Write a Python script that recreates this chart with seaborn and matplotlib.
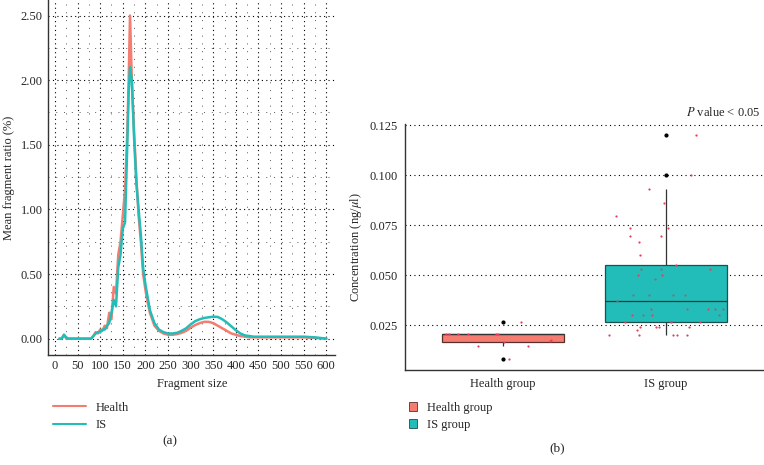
import numpy as np
import pandas as pd
import matplotlib.pyplot as plt
import seaborn as sns
from matplotlib.ticker import MultipleLocator, FormatStrFormatter
from matplotlib.lines import Line2D
from matplotlib.patches import Patch

# panel (a): fragment size distribution
frag_size = [10, 15, 20, 25, 30, 40, 50, 60, 70, 80, 85, 90, 95, 100, 105, 110, 115, 120,
             125, 130, 135, 140, 145, 150, 155, 160, 163, 166, 170, 175, 180, 185, 190, 195,
             200, 205, 210, 220, 230, 240, 250, 260, 270, 280, 290, 300, 310, 320, 330, 340,
             350, 360, 370, 380, 390, 400, 410, 420, 430, 440, 450, 475, 500, 525, 550, 575, 600]
health_ratio = [0, 0, 0.03, 0, 0, 0, 0, 0, 0, 0, 0.02, 0.05, 0.04, 0.07, 0.06, 0.10, 0.08, 0.20,
                0.15, 0.40, 0.35, 0.65, 0.75, 0.95, 1.15, 1.60, 2.00, 2.50, 2.00, 1.60, 1.25, 0.95, 0.75, 0.50,
                0.38, 0.28, 0.20, 0.10, 0.06, 0.04, 0.03, 0.03, 0.035, 0.045, 0.06, 0.085, 0.105, 0.12, 0.13, 0.13,
                0.12, 0.10, 0.08, 0.06, 0.04, 0.03, 0.02, 0.015, 0.01, 0.01, 0.01, 0.01, 0.01, 0.01, 0.01, 0.005, 0]
is_ratio = [0, 0, 0.03, 0.01, 0, 0, 0, 0, 0, 0, 0.02, 0.04, 0.05, 0.05, 0.07, 0.07, 0.10, 0.12,
            0.20, 0.30, 0.25, 0.55, 0.65, 0.85, 0.90, 1.50, 1.90, 2.10, 2.00, 1.55, 1.20, 1.00, 0.80, 0.55,
            0.42, 0.32, 0.22, 0.12, 0.07, 0.05, 0.04, 0.04, 0.045, 0.06, 0.08, 0.11, 0.135, 0.15, 0.16, 0.165,
            0.17, 0.168, 0.15, 0.125, 0.095, 0.065, 0.04, 0.025, 0.02, 0.015, 0.015, 0.015, 0.015, 0.015, 0.015, 0.01, 0]

# panel (b): concentration by group
health_conc = [0.0082, 0.0145, 0.0145, 0.0165, 0.017, 0.0175, 0.0205, 0.0205, 0.0205,
               0.0205, 0.0205, 0.0205, 0.0266]
is_conc = [0.020, 0.020, 0.020, 0.020, 0.020, 0.0229, 0.0242, 0.0242, 0.0242, 0.0242,
           0.0266, 0.0266, 0.0266, 0.0303, 0.0303, 0.0303, 0.0303, 0.0333, 0.0333, 0.0333,
           0.0333, 0.0333, 0.037, 0.0399, 0.0399, 0.0399, 0.0399, 0.0479, 0.0499, 0.0499,
           0.0532, 0.0532, 0.0532, 0.055, 0.0602, 0.0664, 0.0698, 0.0698, 0.0734, 0.0734,
           0.0797, 0.0863, 0.0933, 0.100, 0.120]
groups = ["Health group", "IS group"]

red = "#F47C70"
teal = "#22BDB8"
red_edge = "#5a2e2b"
teal_edge = "#1d4f4e"

sns.set_style("white")
plt.rcParams['font.family'] = ['Liberation Serif', 'DejaVu Serif']
plt.rcParams['mathtext.fontset'] = 'stix'

fig = plt.figure(figsize=(7.64, 4.65), dpi=100)
ax1 = fig.add_axes([0.063, 0.237, 0.376, 0.763])
ax2 = fig.add_axes([0.530, 0.204, 0.470, 0.529])

# ---- (a)
sns.lineplot(x=frag_size, y=health_ratio, color=red, lw=1.8, ax=ax1, label="Health")
sns.lineplot(x=frag_size, y=is_ratio, color=teal, lw=1.8, ax=ax1, label="IS")
ax1.set_xlim(-15, 620)
ax1.set_ylim(-0.125, 2.62)
ax1.xaxis.set_major_locator(MultipleLocator(50))
ax1.xaxis.set_minor_locator(MultipleLocator(25))
ax1.yaxis.set_major_locator(MultipleLocator(0.5))
ax1.yaxis.set_minor_locator(MultipleLocator(0.25))
ax1.yaxis.set_major_formatter(FormatStrFormatter('%.2f'))
ax1.grid(which='major', color='black', linestyle=(0, (1, 3)), lw=0.8)
ax1.grid(which='minor', color='0.35', linestyle=(0, (1, 7)), lw=0.7)
ax1.set_axisbelow(True)
ax1.tick_params(which='both', length=0, labelsize=9, pad=4)
ax1.set_xlabel("Fragment size", fontsize=9)
ax1.set_ylabel("Mean fragment ratio (%)", fontsize=9)
for s in ['top', 'right']:
    ax1.spines[s].set_visible(False)
for s in ['left', 'bottom']:
    ax1.spines[s].set_color('#333333')
    ax1.spines[s].set_linewidth(1.0)
ax1.get_legend().remove()
fig.legend(handles=[Line2D([], [], color=red, lw=1.5), Line2D([], [], color=teal, lw=1.5)],
           labels=["Health", "IS"], loc='upper left', bbox_to_anchor=(0.055, 0.16),
           frameon=False, fontsize=9, handlelength=2.6, labelspacing=0.45)
fig.text(0.222, 0.052, "(a)", ha='center', va='center', fontsize=9.5)

# ---- (b)
df = pd.DataFrame({
    "group": [groups[0]] * len(health_conc) + [groups[1]] * len(is_conc),
    "value": health_conc + is_conc,
})
sns.boxplot(data=df, x="group", y="value", hue="group", palette=[red, teal], width=0.75,
            saturation=1, linecolor='#333333', linewidth=0.9, fliersize=2, showcaps=False,
            legend=False,
            flierprops=dict(marker='o', markerfacecolor='black', markeredgecolor='black'),
            ax=ax2)
for patch, ec in zip(ax2.patches, [red_edge, teal_edge]):
    patch.set_edgecolor(ec)
np.random.seed(3)
sns.stripplot(data=df, x="group", y="value", color="#E8405A", size=1.6, jitter=0.37, ax=ax2)
ax2.set_xlim(-0.601, 1.601)
ax2.set_ylim(0.0026, 0.1255)
ax2.set_yticks([0.025, 0.050, 0.075, 0.100, 0.125])
ax2.yaxis.set_major_formatter(FormatStrFormatter('%.3f'))
ax2.yaxis.grid(True, color='black', linestyle=(0, (1, 3)), lw=0.8)
ax2.set_axisbelow(True)
ax2.tick_params(axis='y', length=0, labelsize=9, pad=5)
ax2.tick_params(axis='x', length=3, width=0.8, color='#333333', labelsize=9, pad=3)
ax2.set_xlabel("")
ax2.set_ylabel(r"Concentration (ng/$\mathit{\mu}$l)", fontsize=9)
for s in ['top', 'right']:
    ax2.spines[s].set_visible(False)
for s in ['left', 'bottom']:
    ax2.spines[s].set_color('#333333')
    ax2.spines[s].set_linewidth(1.0)
ax2.text(0.99, 1.02, r"$\mathit{P}$ value < 0.05", transform=ax2.transAxes,
         ha='right', va='bottom', fontsize=9)
fig.legend(handles=[Patch(facecolor=red, edgecolor=red_edge, lw=0.6),
                    Patch(facecolor=teal, edgecolor=teal_edge, lw=0.6)],
           labels=groups, loc='upper left', bbox_to_anchor=(0.52, 0.16),
           frameon=False, fontsize=9, handlelength=0.7, handleheight=0.7,
           handletextpad=0.8, labelspacing=0.4)
fig.text(0.729, 0.037, "(b)", ha='center', va='center', fontsize=9.5)

fig.savefig("out.png", dpi=100)
